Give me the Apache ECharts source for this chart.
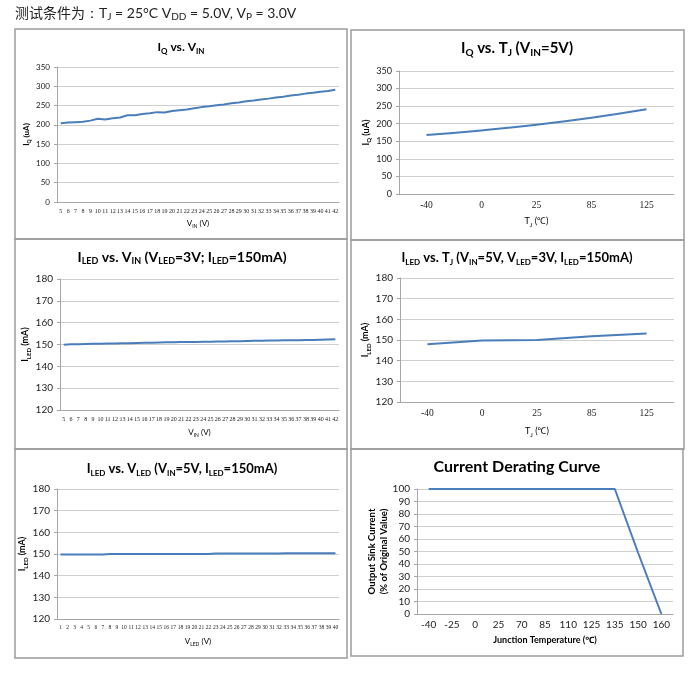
<!DOCTYPE html>
<html>
<head>
<meta charset="utf-8">
<script src="https://cdn.jsdelivr.net/npm/echarts@6/dist/echarts.min.js"></script>
<style>
html, body { margin: 0; padding: 0; background: #fff; }
#main { width: 700px; height: 679px; }
</style>
</head>
<body>
<div id="main"></div>
<script>
// data
var vinCats = ['5','6','7','8','9','10','11','12','13','14','15','16','17','18','19','20','21','22','23',
  '24','25','26','27','28','29','30','31','32','33','34','35','36','37','38','39','40','41','42'];
var iqVsVin = [204,206,207,208,211,216,214,217,219,225,225,228,230,233,232,
  236,238,240,243,246,248,251,253,256,258,261,263,266,268,271,273,276,278,281,283,286,288,291];

var tjCats = ['-40','0','25','85','125'];
var iqVsTj = [168,181,197,217,241];

var iledVsVin = [149.9,150.1,150.1,150.2,150.3,150.3,150.5,150.5,150.6,150.6,150.7,150.8,150.8,150.9,151.0,
  151.0,151.1,151.1,151.2,151.3,151.3,151.4,151.4,151.5,151.5,151.6,151.7,151.7,151.8,151.8,151.9,151.9,
  152.0,152.1,152.1,152.2,152.3,152.4];

var iledVsTj = [147.9,149.7,150.0,151.8,153.2];

var vledCats = ['1','2','3','4','5','6','7','8','9','10','11','12','13','14','15','16','17','18','19','20',
  '21','22','23','24','25','26','27','28','29','30','31','32','33','34','35','36','37','38','39','40'];
var iledVsVled = [149.8,149.8,149.8,149.8,149.8,149.8,149.8,150.0,150.0,150.0,150.0,150.0,150.0,150.0,150.0,
  150.0,150.0,150.0,150.0,150.0,150.0,150.0,150.2,150.2,150.2,150.2,150.2,150.2,150.2,150.2,150.2,150.2,
  150.4,150.4,150.4,150.4,150.4,150.4,150.4,150.4];

var deratingCats = ['-40','-25','0','25','70','85','110','125','135','150','160'];
var derating = [100,100,100,100,100,100,100,100,100,49,0];

var SANS = 'Lato, "Noto Sans", sans-serif';
var SERIF = '"Liberation Serif", "DejaVu Serif", serif';
var BLUE = '#4A7EBB';

function rich(size, weight) {
  return {
    m: { fontSize: size, fontWeight: weight, fontFamily: SANS, lineHeight: size + 2, verticalAlign: 'top', color: '#000' },
    s: { fontSize: Math.round(size * 0.65), fontWeight: weight, fontFamily: SANS, verticalAlign: 'bottom', color: '#000' }
  };
}

var panels = [
  { box: [15, 29, 332, 210], grid: [57, 67, 282, 135], tc: [181, 48], ts: 12,
    title: '{m|I}{s|Q}{m| vs. V}{s|IN}',
    cats: vinCats, data: iqVsVin, y: [0, 350, 50], yFont: 8, xFont: 6, xFam: SERIF,
    xName: '{m|V}{s|IN}{m| (V)}', xGap: 17, xNameSize: 8, xNameW: 'normal',
    yName: '{m|I}{s|Q}{m| (uA)}', yGap: 22, yNameSize: 8, yNameW: 'bold', smooth: false },
  { box: [351, 30, 333, 210], grid: [399, 71, 275, 123], tc: [517, 49], ts: 15,
    title: '{m|I}{s|Q}{m| vs. T}{s|J}{m| (V}{s|IN}{m|=5V)}',
    cats: tjCats, data: iqVsTj, y: [0, 350, 50], yFont: 9, xFont: 9.5, xFam: SERIF,
    xName: '{m|T}{s|J}{m| (℃)}', xGap: 23, xNameSize: 9, xNameW: 'normal',
    yName: '{m|I}{s|Q}{m| (uA)}', yGap: 24, yNameSize: 9, yNameW: 'bold', smooth: true },
  { box: [15, 239, 332, 210], grid: [60, 279, 279, 131], tc: [182, 258], ts: 14,
    title: '{m|I}{s|LED}{m| vs. V}{s|IN}{m| (V}{s|LED}{m|=3V; I}{s|LED}{m|=150mA)}',
    cats: vinCats, data: iledVsVin, y: [120, 180, 10], yFont: 10, xFont: 6, xFam: SERIF,
    xName: '{m|V}{s|IN}{m| (V)}', xGap: 18, xNameSize: 8, xNameW: 'normal',
    yName: '{m|I}{s|LED}{m| (mA)}', yGap: 22, yNameSize: 9, yNameW: 'bold', smooth: false },
  { box: [351, 240, 333, 209], grid: [400, 278, 274, 124], tc: [517, 259], ts: 13,
    title: '{m|I}{s|LED}{m| vs. T}{s|J}{m| (V}{s|IN}{m|=5V, V}{s|LED}{m|=3V, I}{s|LED}{m|=150mA)}',
    cats: tjCats, data: iledVsTj, y: [120, 180, 10], yFont: 10, xFont: 9.5, xFam: SERIF,
    xName: '{m|T}{s|J}{m| (℃)}', xGap: 25, xNameSize: 9, xNameW: 'normal',
    yName: '{m|I}{s|LED}{m| (mA)}', yGap: 26, yNameSize: 9, yNameW: 'bold', smooth: false },
  { box: [15, 449, 332, 209], grid: [57, 489, 282, 130], tc: [182, 470], ts: 13,
    title: '{m|I}{s|LED}{m| vs. V}{s|LED}{m| (V}{s|IN}{m|=5V, I}{s|LED}{m|=150mA)}',
    cats: vledCats, data: iledVsVled, y: [120, 180, 10], yFont: 10, xFont: 5.5, xFam: SERIF,
    xName: '{m|V}{s|LED}{m| (V)}', xGap: 18, xNameSize: 8, xNameW: 'normal',
    yName: '{m|I}{s|LED}{m| (mA)}', yGap: 19, yNameSize: 9, yNameW: 'bold', smooth: false },
  { box: [351, 449, 332, 207], grid: [417, 489, 256, 125], tc: [517, 468], ts: 16,
    title: '{m|Current Derating Curve}',
    cats: deratingCats, data: derating, y: [0, 100, 10], yFont: 10, xFont: 10, xFam: SANS,
    xName: '{m|Junction Temperature (℃)}', xGap: 22, xNameSize: 9, xNameW: 'bold',
    yName: '{m|Output Sink Current}\n{m|(% of Original Value)}', yGap: 26, yNameSize: 9.5, yNameW: 'bold', smooth: false }
];

var grids = [], xAxes = [], yAxes = [], series = [], graphics = [];

panels.forEach(function (p, i) {
  graphics.push({
    type: 'rect', silent: true,
    shape: { x: p.box[0], y: p.box[1], width: p.box[2], height: p.box[3] },
    style: { fill: null, stroke: '#9C9C9C', lineWidth: 1.5 }
  });
  graphics.push({
    type: 'text', x: p.tc[0], y: p.tc[1],
    style: { text: p.title, rich: rich(p.ts, 'bold'), align: 'center', verticalAlign: 'middle', fill: '#000' }
  });
  grids.push({ left: p.grid[0], top: p.grid[1], width: p.grid[2], height: p.grid[3] });
  xAxes.push({
    type: 'category', gridIndex: i, data: p.cats, boundaryGap: true,
    axisLine: { lineStyle: { color: '#A6A6A6' } },
    axisTick: { show: false },
    axisLabel: { interval: 0, hideOverlap: false, fontSize: p.xFont, fontFamily: p.xFam, color: '#222', margin: 6 },
    name: p.xName, nameLocation: 'middle', nameGap: p.xGap,
    nameTextStyle: { rich: rich(p.xNameSize, p.xNameW) }
  });
  yAxes.push({
    type: 'value', gridIndex: i, min: p.y[0], max: p.y[1], interval: p.y[2],
    axisLine: { show: true, lineStyle: { color: '#A6A6A6' } },
    axisTick: { show: true, length: 3, lineStyle: { color: '#A6A6A6' } },
    splitLine: { lineStyle: { color: '#CFCFCF' } },
    axisLabel: { fontSize: p.yFont, fontFamily: SANS, color: '#222', margin: 7 },
    name: p.yName, nameLocation: 'middle', nameGap: p.yGap, nameRotate: 90,
    nameTextStyle: { rich: rich(p.yNameSize, p.yNameW), align: 'center' }
  });
  series.push({
    type: 'line', xAxisIndex: i, yAxisIndex: i, data: p.data, smooth: p.smooth,
    symbol: 'none', lineStyle: { color: BLUE, width: 2 }, itemStyle: { color: BLUE }
  });
});

// header line
graphics.push({
  type: 'text', x: 15, y: 14,
  style: {
    text: '{c|测试条件为}{l|：T}{s|J}{l| = 25°C V}{s|DD}{l| = 5.0V, V}{s|P}{l| = 3.0V}',
    verticalAlign: 'middle', align: 'left', fill: '#222',
    rich: {
      c: { fontSize: 14, fontFamily: '"Noto Sans CJK SC", sans-serif', color: '#222', lineHeight: 16, verticalAlign: 'top' },
      l: { fontSize: 14, fontFamily: SANS, color: '#222', lineHeight: 16, verticalAlign: 'top' },
      s: { fontSize: 10, fontFamily: SANS, color: '#222', verticalAlign: 'bottom' }
    }
  }
});

var chart = echarts.init(document.getElementById('main'));
chart.setOption({
  animation: false,
  backgroundColor: '#fff',
  grid: grids,
  xAxis: xAxes,
  yAxis: yAxes,
  series: series,
  graphic: graphics
});
</script>
</body>
</html>
